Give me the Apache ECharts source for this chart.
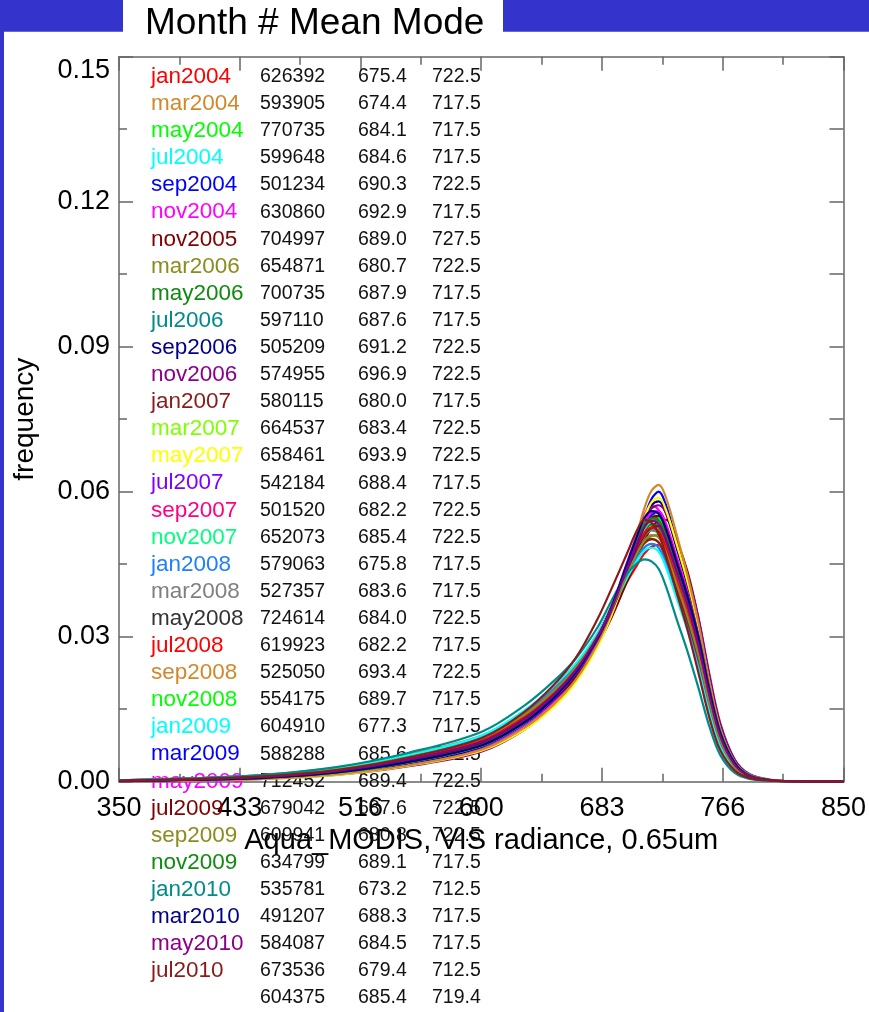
<!DOCTYPE html>
<html lang="en">
<head>
<meta charset="UTF-8">
<title>Aqua_MODIS VIS radiance histograms</title>
<style>
  html, body { margin: 0; padding: 0; background: #fff; }
  #container { width: 869px; height: 1012px; }
</style>
</head>
<body>
<div id="container"></div>
<script src="https://cdn.jsdelivr.net/npm/echarts@6.0.0/dist/echarts.min.js"></script>
<script>
var radiance = [350, 400, 450, 500, 550, 600, 630, 650, 665, 680, 690, 700, 707.5, 712.5,
  717.5, 722.5, 727.5, 735, 742.5, 750, 757.5, 765, 775, 785, 800, 825, 850];

var months = ['jan2004', 'mar2004', 'may2004', 'jul2004', 'sep2004', 'nov2004', 'nov2005', 'mar2006',
  'may2006', 'jul2006', 'sep2006', 'nov2006', 'jan2007', 'mar2007', 'may2007', 'jul2007', 'sep2007',
  'nov2007', 'jan2008', 'mar2008', 'may2008', 'jul2008', 'sep2008', 'nov2008', 'jan2009', 'mar2009',
  'may2009', 'jul2009', 'sep2009', 'nov2009', 'jan2010', 'mar2010', 'may2010', 'jul2010'];

var counts = ['626392', '593905', '770735', '599648', '501234', '630860', '704997', '654871', '700735',
  '597110', '505209', '574955', '580115', '664537', '658461', '542184', '501520', '652073', '579063',
  '527357', '724614', '619923', '525050', '554175', '604910', '588288', '712452', '679042', '609941',
  '634799', '535781', '491207', '584087', '673536'];

var means = ['675.4', '674.4', '684.1', '684.6', '690.3', '692.9', '689.0', '680.7', '687.9', '687.6',
  '691.2', '696.9', '680.0', '683.4', '693.9', '688.4', '682.2', '685.4', '675.8', '683.6', '684.0',
  '682.2', '693.4', '689.7', '677.3', '685.6', '689.4', '687.6', '680.8', '689.1', '673.2', '688.3',
  '684.5', '679.4'];

var modes = ['722.5', '717.5', '717.5', '717.5', '722.5', '717.5', '727.5', '722.5', '717.5', '717.5',
  '722.5', '722.5', '717.5', '722.5', '722.5', '717.5', '722.5', '722.5', '717.5', '717.5', '722.5',
  '717.5', '722.5', '717.5', '717.5', '722.5', '722.5', '722.5', '722.5', '717.5', '712.5', '717.5',
  '717.5', '712.5'];

var totalRow = ['', '604375', '685.4', '719.4'];

var palette = ['#FF0000', '#D2882A', '#00FF00', '#00FFFF', '#0000FF', '#FF00FF', '#800000',
  '#8C8C1E', '#108A10', '#008B8B', '#00008B', '#8B008B', '#8B1A1A', '#7FFF00', '#FFFF00',
  '#8000FF', '#FF0080', '#00FF7F', '#1E7FFF', '#808080', '#333333'];

var freq = [
  [0.0003, 0.0007, 0.0013, 0.0028, 0.0055, 0.0092, 0.0142, 0.0190, 0.0235, 0.0295, 0.0350, 0.0410, 0.0448, 0.0472, 0.0486, 0.0490, 0.0465, 0.0400, 0.0334, 0.0252, 0.0158, 0.0081, 0.0030, 0.0010, 0.0003, 0, 0], // jan2004
  [0.0003, 0.0007, 0.0014, 0.0029, 0.0057, 0.0095, 0.0145, 0.0195, 0.0240, 0.0305, 0.0362, 0.0425, 0.0468, 0.0492, 0.0502, 0.0494, 0.0458, 0.0388, 0.0317, 0.0235, 0.0144, 0.0073, 0.0026, 0.0008, 0.0003, 0, 0], // mar2004
  [0.0002, 0.0005, 0.0010, 0.0022, 0.0046, 0.0082, 0.0132, 0.0182, 0.0232, 0.0300, 0.0362, 0.0435, 0.0488, 0.0518, 0.0533, 0.0528, 0.0495, 0.0428, 0.0359, 0.0276, 0.0174, 0.0091, 0.0033, 0.0012, 0.0003, 0, 0], // may2004
  [0.0002, 0.0005, 0.0011, 0.0024, 0.0050, 0.0088, 0.0138, 0.0188, 0.0238, 0.0305, 0.0365, 0.0432, 0.0480, 0.0508, 0.0520, 0.0512, 0.0478, 0.0410, 0.0341, 0.0260, 0.0162, 0.0083, 0.0030, 0.0010, 0.0003, 0, 0], // jul2004
  [0.0001, 0.0004, 0.0008, 0.0018, 0.0040, 0.0074, 0.0122, 0.0172, 0.0222, 0.0292, 0.0355, 0.0432, 0.0495, 0.0545, 0.0585, 0.0600, 0.0572, 0.0492, 0.0407, 0.0308, 0.0192, 0.0101, 0.0038, 0.0014, 0.0003, 0, 0], // sep2004
  [0.0001, 0.0003, 0.0007, 0.0016, 0.0036, 0.0068, 0.0115, 0.0165, 0.0218, 0.0292, 0.0362, 0.0448, 0.0512, 0.0552, 0.0570, 0.0562, 0.0528, 0.0455, 0.0380, 0.0291, 0.0182, 0.0096, 0.0036, 0.0012, 0.0003, 0, 0], // nov2004
  [0.0002, 0.0004, 0.0009, 0.0020, 0.0042, 0.0076, 0.0122, 0.0170, 0.0215, 0.0282, 0.0340, 0.0410, 0.0462, 0.0498, 0.0525, 0.0540, 0.0542, 0.0498, 0.0433, 0.0336, 0.0216, 0.0114, 0.0042, 0.0014, 0.0003, 0, 0], // nov2005
  [0.0002, 0.0006, 0.0012, 0.0025, 0.0051, 0.0088, 0.0138, 0.0186, 0.0232, 0.0296, 0.0352, 0.0418, 0.0466, 0.0494, 0.0508, 0.0510, 0.0482, 0.0415, 0.0347, 0.0264, 0.0166, 0.0086, 0.0032, 0.0010, 0.0003, 0, 0], // mar2006
  [0.0002, 0.0004, 0.0009, 0.0020, 0.0043, 0.0078, 0.0126, 0.0176, 0.0226, 0.0296, 0.0360, 0.0436, 0.0490, 0.0520, 0.0532, 0.0526, 0.0496, 0.0432, 0.0365, 0.0282, 0.0180, 0.0095, 0.0035, 0.0012, 0.0003, 0, 0], // may2006
  [0.0002, 0.0005, 0.0010, 0.0022, 0.0046, 0.0082, 0.0130, 0.0180, 0.0230, 0.0298, 0.0358, 0.0430, 0.0480, 0.0510, 0.0522, 0.0516, 0.0486, 0.0420, 0.0355, 0.0274, 0.0175, 0.0092, 0.0034, 0.0012, 0.0003, 0, 0], // jul2006
  [0.0001, 0.0004, 0.0008, 0.0017, 0.0038, 0.0072, 0.0120, 0.0170, 0.0222, 0.0294, 0.0360, 0.0440, 0.0502, 0.0545, 0.0572, 0.0580, 0.0555, 0.0482, 0.0404, 0.0311, 0.0198, 0.0105, 0.0040, 0.0014, 0.0003, 0, 0], // sep2006
  [0.0001, 0.0003, 0.0006, 0.0014, 0.0032, 0.0062, 0.0108, 0.0158, 0.0210, 0.0285, 0.0352, 0.0435, 0.0498, 0.0540, 0.0565, 0.0572, 0.0556, 0.0496, 0.0428, 0.0338, 0.0222, 0.0121, 0.0046, 0.0016, 0.0004, 0, 0], // nov2006
  [0.0002, 0.0006, 0.0012, 0.0026, 0.0053, 0.0090, 0.0140, 0.0190, 0.0238, 0.0302, 0.0360, 0.0425, 0.0470, 0.0494, 0.0502, 0.0495, 0.0462, 0.0396, 0.0328, 0.0246, 0.0151, 0.0077, 0.0027, 0.0010, 0.0003, 0, 0], // jan2007
  [0.0002, 0.0005, 0.0010, 0.0023, 0.0047, 0.0084, 0.0133, 0.0182, 0.0230, 0.0296, 0.0355, 0.0425, 0.0478, 0.0510, 0.0526, 0.0530, 0.0502, 0.0435, 0.0365, 0.0280, 0.0178, 0.0092, 0.0033, 0.0012, 0.0003, 0, 0], // mar2007
  [0.0001, 0.0003, 0.0006, 0.0014, 0.0033, 0.0064, 0.0108, 0.0155, 0.0205, 0.0278, 0.0345, 0.0430, 0.0498, 0.0545, 0.0578, 0.0588, 0.0562, 0.0490, 0.0412, 0.0319, 0.0204, 0.0108, 0.0040, 0.0014, 0.0003, 0, 0], // may2007
  [0.0001, 0.0004, 0.0008, 0.0019, 0.0041, 0.0076, 0.0124, 0.0174, 0.0225, 0.0296, 0.0362, 0.0442, 0.0500, 0.0535, 0.0550, 0.0544, 0.0512, 0.0445, 0.0376, 0.0291, 0.0185, 0.0098, 0.0036, 0.0012, 0.0003, 0, 0], // jul2007
  [0.0002, 0.0005, 0.0011, 0.0024, 0.0049, 0.0086, 0.0135, 0.0184, 0.0232, 0.0298, 0.0355, 0.0424, 0.0476, 0.0508, 0.0524, 0.0528, 0.0500, 0.0434, 0.0363, 0.0278, 0.0175, 0.0091, 0.0033, 0.0012, 0.0003, 0, 0], // sep2007
  [0.0002, 0.0005, 0.0010, 0.0021, 0.0045, 0.0080, 0.0128, 0.0178, 0.0228, 0.0296, 0.0358, 0.0432, 0.0488, 0.0522, 0.0538, 0.0540, 0.0512, 0.0444, 0.0374, 0.0289, 0.0185, 0.0098, 0.0036, 0.0012, 0.0003, 0, 0], // nov2007
  [0.0003, 0.0007, 0.0013, 0.0028, 0.0055, 0.0093, 0.0143, 0.0192, 0.0238, 0.0302, 0.0358, 0.0420, 0.0462, 0.0484, 0.0492, 0.0484, 0.0450, 0.0384, 0.0317, 0.0237, 0.0146, 0.0074, 0.0027, 0.0010, 0.0003, 0, 0], // jan2008
  [0.0002, 0.0005, 0.0011, 0.0023, 0.0048, 0.0085, 0.0134, 0.0184, 0.0233, 0.0300, 0.0360, 0.0430, 0.0480, 0.0508, 0.0520, 0.0514, 0.0482, 0.0416, 0.0349, 0.0269, 0.0170, 0.0088, 0.0033, 0.0012, 0.0003, 0, 0], // mar2008
  [0.0002, 0.0005, 0.0010, 0.0022, 0.0047, 0.0083, 0.0132, 0.0182, 0.0231, 0.0298, 0.0356, 0.0426, 0.0478, 0.0510, 0.0526, 0.0530, 0.0503, 0.0436, 0.0368, 0.0282, 0.0180, 0.0094, 0.0035, 0.0012, 0.0003, 0, 0], // may2008
  [0.0002, 0.0005, 0.0011, 0.0024, 0.0050, 0.0087, 0.0136, 0.0186, 0.0235, 0.0303, 0.0363, 0.0434, 0.0485, 0.0514, 0.0526, 0.0518, 0.0484, 0.0416, 0.0347, 0.0264, 0.0166, 0.0086, 0.0032, 0.0010, 0.0003, 0, 0], // jul2008
  [0.0001, 0.0003, 0.0006, 0.0015, 0.0034, 0.0066, 0.0112, 0.0160, 0.0210, 0.0284, 0.0352, 0.0440, 0.0512, 0.0565, 0.0602, 0.0614, 0.0588, 0.0510, 0.0425, 0.0327, 0.0206, 0.0109, 0.0040, 0.0014, 0.0003, 0, 0], // sep2008
  [0.0001, 0.0004, 0.0008, 0.0018, 0.0040, 0.0074, 0.0122, 0.0172, 0.0224, 0.0296, 0.0362, 0.0444, 0.0504, 0.0538, 0.0552, 0.0547, 0.0518, 0.0452, 0.0384, 0.0300, 0.0192, 0.0103, 0.0039, 0.0014, 0.0003, 0, 0], // nov2008
  [0.0003, 0.0006, 0.0013, 0.0027, 0.0055, 0.0095, 0.0148, 0.0198, 0.0244, 0.0306, 0.0360, 0.0418, 0.0458, 0.0478, 0.0484, 0.0476, 0.0444, 0.0378, 0.0311, 0.0231, 0.0142, 0.0072, 0.0026, 0.0008, 0.0002, 0, 0], // jan2009
  [0.0002, 0.0004, 0.0009, 0.0021, 0.0045, 0.0080, 0.0128, 0.0176, 0.0225, 0.0293, 0.0355, 0.0430, 0.0490, 0.0528, 0.0552, 0.0558, 0.0530, 0.0458, 0.0384, 0.0297, 0.0188, 0.0099, 0.0036, 0.0012, 0.0003, 0, 0], // mar2009
  [0.0001, 0.0004, 0.0008, 0.0019, 0.0041, 0.0075, 0.0123, 0.0172, 0.0223, 0.0294, 0.0358, 0.0436, 0.0496, 0.0534, 0.0556, 0.0560, 0.0534, 0.0464, 0.0391, 0.0302, 0.0192, 0.0101, 0.0038, 0.0014, 0.0003, 0, 0], // may2009
  [0.0002, 0.0004, 0.0009, 0.0020, 0.0043, 0.0078, 0.0125, 0.0175, 0.0225, 0.0295, 0.0357, 0.0434, 0.0492, 0.0528, 0.0546, 0.0550, 0.0524, 0.0455, 0.0384, 0.0298, 0.0190, 0.0100, 0.0038, 0.0012, 0.0003, 0, 0], // jul2009
  [0.0002, 0.0006, 0.0012, 0.0025, 0.0051, 0.0089, 0.0139, 0.0188, 0.0236, 0.0301, 0.0358, 0.0424, 0.0472, 0.0498, 0.0510, 0.0505, 0.0474, 0.0408, 0.0340, 0.0260, 0.0163, 0.0085, 0.0030, 0.0010, 0.0003, 0, 0], // sep2009
  [0.0001, 0.0004, 0.0008, 0.0019, 0.0041, 0.0076, 0.0124, 0.0174, 0.0225, 0.0297, 0.0362, 0.0442, 0.0500, 0.0532, 0.0545, 0.0540, 0.0512, 0.0448, 0.0382, 0.0299, 0.0192, 0.0103, 0.0039, 0.0014, 0.0003, 0, 0], // nov2009
  [0.0003, 0.0007, 0.0014, 0.0030, 0.0060, 0.0103, 0.0158, 0.0208, 0.0254, 0.0318, 0.0375, 0.0428, 0.0452, 0.0460, 0.0456, 0.0440, 0.0404, 0.0335, 0.0268, 0.0193, 0.0114, 0.0055, 0.0018, 0.0006, 0.0002, 0, 0], // jan2010
  [0.0001, 0.0004, 0.0008, 0.0019, 0.0041, 0.0075, 0.0123, 0.0173, 0.0224, 0.0296, 0.0362, 0.0446, 0.0508, 0.0545, 0.0560, 0.0554, 0.0522, 0.0452, 0.0382, 0.0297, 0.0188, 0.0100, 0.0038, 0.0012, 0.0003, 0, 0], // mar2010
  [0.0002, 0.0005, 0.0010, 0.0022, 0.0046, 0.0082, 0.0130, 0.0180, 0.0230, 0.0299, 0.0360, 0.0436, 0.0492, 0.0526, 0.0540, 0.0533, 0.0500, 0.0433, 0.0364, 0.0280, 0.0178, 0.0094, 0.0035, 0.0012, 0.0003, 0, 0], // may2010
  [0.0002, 0.0005, 0.0011, 0.0024, 0.0050, 0.0090, 0.0145, 0.0200, 0.0255, 0.0335, 0.0400, 0.0468, 0.0520, 0.0542, 0.0536, 0.0512, 0.0468, 0.0390, 0.0313, 0.0224, 0.0132, 0.0065, 0.0023, 0.0008, 0.0002, 0, 0]  // jul2010
];

var FONT = 'Liberation Sans, Arial, Helvetica, sans-serif';
var chart = echarts.init(document.getElementById('container'));

// table of month / count / mean / mode, drawn as plain text
var table = [];
var rowY = function (i) { return 76.7 + i * 27.1; };
months.forEach(function (m, i) {
  var c = palette[i % palette.length];
  table.push({ type: 'text', x: 151, y: rowY(i), z: 1,
    style: { text: m, fill: c, font: '22.5px ' + FONT, verticalAlign: 'middle' } });
  table.push({ type: 'text', x: 260, y: rowY(i), z: 1,
    style: { text: counts[i], fill: '#111', font: '19.5px ' + FONT, verticalAlign: 'middle' } });
  table.push({ type: 'text', x: 358, y: rowY(i), z: 1,
    style: { text: means[i], fill: '#111', font: '19.5px ' + FONT, verticalAlign: 'middle' } });
  table.push({ type: 'text', x: 432, y: rowY(i), z: 1,
    style: { text: modes[i], fill: '#111', font: '19.5px ' + FONT, verticalAlign: 'middle' } });
});
[260, 358, 432].forEach(function (x, k) {
  table.push({ type: 'text', x: x, y: rowY(months.length), z: 1,
    style: { text: totalRow[k + 1], fill: '#111', font: '19.5px ' + FONT, verticalAlign: 'middle' } });
});

var axisGray = '#666';
var xBase = {
  type: 'value', min: 350, max: 850, interval: 500 / 6,
  axisLine: { show: true, onZero: false, lineStyle: { color: axisGray, width: 1.5 } },
  axisTick: { show: true, inside: true, length: 14, lineStyle: { color: axisGray, width: 1.5 } },
  minorTick: { show: true, splitNumber: 2, length: 8, lineStyle: { color: axisGray, width: 1.5 } },
  splitLine: { show: false }
};
var yBase = {
  type: 'value', min: 0, max: 0.15, interval: 0.03,
  axisLine: { show: true, onZero: false, lineStyle: { color: axisGray, width: 1.5 } },
  axisTick: { show: true, inside: true, length: 14, lineStyle: { color: axisGray, width: 1.5 } },
  minorTick: { show: true, splitNumber: 2, length: 8, lineStyle: { color: axisGray, width: 1.5 } },
  splitLine: { show: false }
};

var option = {
  backgroundColor: '#fff',
  animation: false,
  grid: { left: 119, right: 25.5, top: 56.7, bottom: 230.3, containLabel: false },
  xAxis: [
    Object.assign({}, xBase, {
      position: 'bottom',
      name: 'Aqua_MODIS, VIS radiance, 0.65um',
      nameLocation: 'middle', nameGap: 41,
      nameTextStyle: { fontSize: 29, color: '#000', fontFamily: FONT },
      axisLabel: { show: true, margin: 13, fontSize: 27, color: '#000', fontFamily: FONT,
        formatter: function (v) { return String(Math.floor(v + 1e-6)); } }
    }),
    Object.assign({}, xBase, { position: 'top', axisLabel: { show: false } })
  ],
  yAxis: [
    Object.assign({}, yBase, {
      position: 'left',
      name: 'frequency',
      nameLocation: 'middle', nameGap: 80,
      nameTextStyle: { fontSize: 28, color: '#000', fontFamily: FONT },
      axisLabel: { show: true, margin: 9, fontSize: 27, color: '#000', fontFamily: FONT,
        verticalAlignMaxLabel: 'top',
        formatter: function (v) { return v.toFixed(2); } }
    }),
    Object.assign({}, yBase, { position: 'right', axisLabel: { show: false },
      minorTick: { show: true, splitNumber: 2, length: 14, lineStyle: { color: axisGray, width: 1.5 } } })
  ],
  graphic: [
    { type: 'rect', shape: { x: 0, y: 0, width: 123, height: 31.7 }, style: { fill: '#3434CC' }, z: 0 },
    { type: 'rect', shape: { x: 503, y: 0, width: 366, height: 31.7 }, style: { fill: '#3434CC' }, z: 0 },
    { type: 'rect', shape: { x: 0, y: 0, width: 4, height: 1012 }, style: { fill: '#3434CC' }, z: 0 },
    { type: 'text', x: 145, y: 24, z: 1,
      style: { text: 'Month # Mean Mode', fill: '#000', font: '37px ' + FONT, verticalAlign: 'middle' } }
  ].concat(table),
  series: freq.map(function (vals, i) {
    return {
      name: months[i],
      type: 'line',
      xAxisIndex: 0, yAxisIndex: 0,
      smooth: 0.35,
      showSymbol: false,
      data: radiance.map(function (x, j) { return [x, vals[j]]; }),
      lineStyle: { color: palette[i % palette.length], width: 2.2 },
      itemStyle: { color: palette[i % palette.length] }
    };
  })
};
chart.setOption(option);
</script>
</body>
</html>
